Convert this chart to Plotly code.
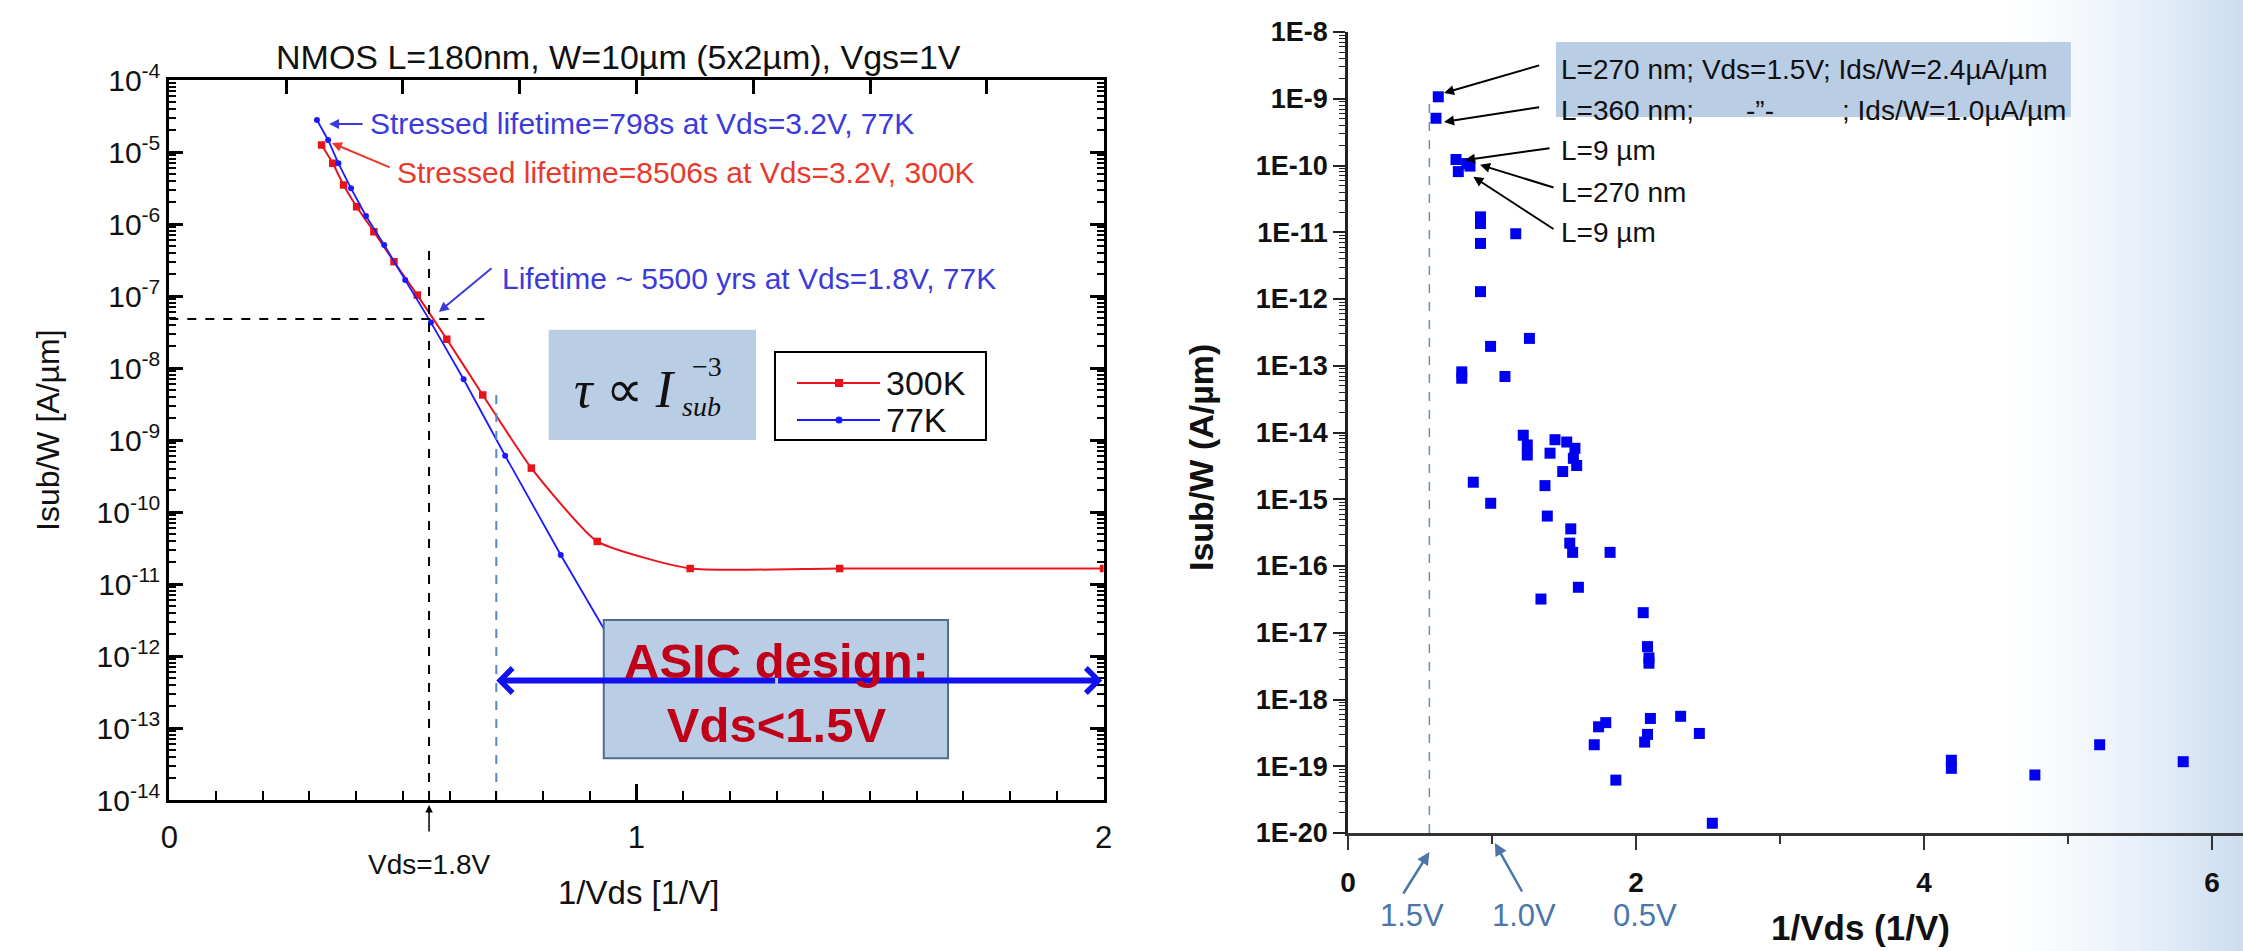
import math
import plotly.graph_objects as go

W, H = 2243, 951

# ---------------- left panel: NMOS substrate current vs 1/Vds ----------------
inv_vds_300k = [0.326, 0.350, 0.373, 0.401, 0.438, 0.481, 0.531, 0.594, 0.671,
                0.775, 0.916, 1.115, 1.435, 2.0]
isub_300k = [1.25e-5, 6.97e-6, 3.48e-6, 1.74e-6, 7.8e-7, 2.99e-7, 1.03e-7, 2.51e-8,
             4.22e-9, 4.07e-10, 3.9e-11, 1.64e-11, 1.64e-11, 1.64e-11]

inv_vds_77k = [0.316, 0.340, 0.362, 0.389, 0.421, 0.460, 0.505, 0.560, 0.630,
               0.719, 0.838, 0.96]
isub_77k = [2.78e-5, 1.47e-5, 6.97e-6, 3.13e-6, 1.29e-6, 5.1e-7, 1.67e-7, 4.3e-8,
            6.97e-9, 6.05e-10, 2.53e-11, 1.12e-12]

# operating point at Vds = 1.8 V and the 1.5 V design limit
inv_vds_op = 0.556
isub_op = 4.8e-8
inv_vds_limit = 0.70

# ---------------- right panel: many devices, Isub/W vs 1/Vds ----------------
inv_vds_dev = [0.627, 0.611, 0.75, 0.824, 0.847, 0.766,
               0.92, 0.92, 1.165, 0.92, 0.92, 1.26, 0.99, 1.09, 0.79, 0.79,
               1.217, 1.245, 1.245, 1.4375, 1.519, 1.403, 1.576, 1.565, 1.588,
               1.491, 0.870, 1.368, 0.991, 1.384, 1.547,
               1.54, 1.56, 1.82, 1.60, 1.34, 2.05, 2.08, 2.09, 2.09,
               2.31, 2.10, 1.79, 1.74, 2.44, 2.08, 2.06, 1.71,
               4.19, 4.19, 5.22, 5.80, 4.77, 1.86, 2.53]
isub_dev = [1.07e-9, 5.1e-10, 1.23e-10, 1.07e-10, 9.8e-11, 8.1e-11,
            1.7e-11, 1.35e-11, 9.5e-12, 6.8e-12, 1.29e-12, 2.57e-13, 1.95e-13,
            6.9e-14, 8.1e-14, 6.5e-14,
            9.1e-15, 6.5e-15, 4.6e-15, 7.8e-15, 7.2e-15, 4.9e-15, 5.8e-15, 4.1e-15,
            3.2e-15, 2.6e-15, 1.8e-15, 1.6e-15, 8.7e-16, 5.6e-16, 3.6e-16,
            2.2e-16, 1.6e-16, 1.6e-16, 4.8e-17, 3.2e-17, 2.0e-17, 6.2e-18, 4.2e-18,
            3.5e-18, 5.6e-19, 5.2e-19, 4.5e-19, 3.9e-19, 3.1e-19, 3.0e-19, 2.3e-19,
            2.1e-19, 1.23e-19, 9.3e-20, 2.1e-19, 1.17e-19, 7.4e-20, 6.2e-20, 1.4e-20]
inv_vds_15v_line = 0.565

left_decades = list(range(-14, -3))
right_decades = list(range(-20, -7))
right_tick_text = ["1E%d" % d for d in right_decades]

FONT = "Liberation Sans, Arial, sans-serif"
SERIF = "Liberation Serif, Times New Roman, serif"
RED = "#e8141c"
BLUE = "#1a1aff"
TXT_BLUE = "#3b3bdc"
TXT_RED = "#e83a2c"
BOX_FILL = "#b9cde5"
STEEL = "#4a76aa"


def px(x):
    return x / W


def py(y):
    return 1 - y / H


fig = go.Figure()

# curves (left)
fig.add_trace(go.Scatter(
    x=inv_vds_300k, y=isub_300k, mode="lines+markers", name="300K",
    line=dict(color=RED, width=2, shape="spline", smoothing=0.5),
    marker=dict(symbol="square", size=7.5, color=RED),
    xaxis="x", yaxis="y", showlegend=False))
fig.add_trace(go.Scatter(
    x=inv_vds_77k, y=isub_77k, mode="lines+markers", name="77K",
    line=dict(color=BLUE, width=1.8),
    marker=dict(symbol="circle", size=6, color=BLUE),
    xaxis="x", yaxis="y", showlegend=False))

# guide lines (left)
fig.add_trace(go.Scatter(
    x=[0, 0.677], y=[isub_op, isub_op], mode="lines",
    line=dict(color="black", width=2, dash="dash"),
    xaxis="x", yaxis="y", showlegend=False, hoverinfo="skip"))
fig.add_trace(go.Scatter(
    x=[inv_vds_op, inv_vds_op], y=[1e-14, 10 ** -6.32], mode="lines",
    line=dict(color="black", width=2, dash="dash"),
    xaxis="x", yaxis="y", showlegend=False, hoverinfo="skip"))
fig.add_trace(go.Scatter(
    x=[inv_vds_limit, inv_vds_limit], y=[1e-14, 10 ** -8.3], mode="lines",
    line=dict(color="#5b87c0", width=2, dash="dash"),
    xaxis="x", yaxis="y", showlegend=False, hoverinfo="skip"))
# carrier for the top tick row
fig.add_trace(go.Scatter(x=[None], y=[None], xaxis="x3", yaxis="y",
                         showlegend=False, hoverinfo="skip"))

# right panel
fig.add_trace(go.Scatter(
    x=[inv_vds_15v_line, inv_vds_15v_line], y=[1e-20, 10 ** -9.0], mode="lines",
    line=dict(color="#6a8fb8", width=1.5, dash="dash"),
    xaxis="x2", yaxis="y2", showlegend=False, hoverinfo="skip"))
fig.add_trace(go.Scatter(
    x=inv_vds_dev, y=isub_dev, mode="markers",
    marker=dict(symbol="square", size=11, color="#0000f0"),
    xaxis="x2", yaxis="y2", showlegend=False))

shapes = []
# soft blue wash on the right edge
n_strips = 30
x_start, x_end = 1990, W
for i in range(n_strips):
    t = ((i + 0.5) / n_strips) ** 1.5
    r = round(255 + (203 - 255) * t)
    g = round(255 + (221 - 255) * t)
    b = round(255 + (240 - 255) * t)
    x0 = x_start + (x_end - x_start) * i / n_strips
    x1 = x_start + (x_end - x_start) * (i + 1) / n_strips + 1
    shapes.append(dict(type="rect", xref="paper", yref="paper",
                       x0=px(x0), x1=px(x1), y0=0, y1=1, layer="below",
                       fillcolor="rgb(%d,%d,%d)" % (r, g, b), line=dict(width=0)))

# tau box
shapes.append(dict(type="rect", xref="x", yref="y", x0=0.812, x1=1.256,
                   y0=10 ** -9.0, y1=10 ** -7.47, fillcolor=BOX_FILL,
                   line=dict(width=0), layer="above"))
# ASIC box
shapes.append(dict(type="rect", xref="x", yref="y", x0=0.93, x1=1.667,
                   y0=10 ** -13.42, y1=10 ** -11.50, fillcolor=BOX_FILL,
                   line=dict(color="#4f6d8f", width=2), layer="above"))
# legend frame and samples
shapes.append(dict(type="rect", xref="paper", yref="paper", x0=px(775), x1=px(986),
                   y0=py(440), y1=py(352), fillcolor="white",
                   line=dict(color="black", width=2), layer="above"))
shapes.append(dict(type="line", xref="paper", yref="paper", x0=px(797), x1=px(880),
                   y0=py(383), y1=py(383), line=dict(color=RED, width=2), layer="above"))
shapes.append(dict(type="rect", xref="paper", yref="paper", x0=px(835), x1=px(843),
                   y0=py(387), y1=py(379), fillcolor=RED, line=dict(width=0), layer="above"))
shapes.append(dict(type="line", xref="paper", yref="paper", x0=px(797), x1=px(880),
                   y0=py(420), y1=py(420), line=dict(color=BLUE, width=2), layer="above"))
shapes.append(dict(type="circle", xref="paper", yref="paper", x0=px(835.5), x1=px(842.5),
                   y0=py(423.5), y1=py(416.5), fillcolor=BLUE, line=dict(width=0),
                   layer="above"))
# highlight behind the device notes (right)
shapes.append(dict(type="rect", xref="x2", yref="y2", x0=1.444, x1=5.02,
                   y0=10 ** -9.273, y1=10 ** -8.15, fillcolor=BOX_FILL,
                   line=dict(width=0), layer="below"))

ann = []


def text(t, x, y, size, color="#111111", xref="paper", yref="paper",
         xanchor="center", yanchor="middle", angle=0, family=FONT, bold=False):
    ann.append(dict(text=t, x=x, y=y, xref=xref, yref=yref, showarrow=False,
                    xanchor=xanchor, yanchor=yanchor, textangle=angle,
                    font=dict(size=size, color=color, family=family,
                              weight="bold" if bold else "normal")))


def arrow(x, y, ax, ay, color, width=2, head=2, size=1.0, xref="x", yref="y",
          axref=None, ayref=None):
    ann.append(dict(text="", x=x, y=y, ax=ax, ay=ay, xref=xref, yref=yref,
                    axref=axref or xref, ayref=ayref or yref, showarrow=True,
                    arrowhead=head, arrowsize=size, arrowwidth=width,
                    arrowcolor=color, standoff=0, startstandoff=0))


# left panel labels
text("NMOS L=180nm, W=10µm (5x2µm), Vgs=1V", px(618), py(57), 34)
text("Isub/W [A/µm]", px(48), py(430), 32, angle=-90)
text("1/Vds [1/V]", px(638), py(892), 33)
text("Vds=1.8V", inv_vds_op, py(864), 28, xref="x")
arrow(inv_vds_op, py(805), 0, 28, "black", width=1.5, head=2, xref="x", yref="paper",
      axref="pixel", ayref="pixel")

text("Stressed lifetime=798s at Vds=3.2V, 77K", 0.4255, -4.611, 30, TXT_BLUE,
     xref="x", yref="y", xanchor="left")
arrow(0.342, -4.611, 0.417, -4.611, TXT_BLUE)
text("Stressed lifetime=8506s at Vds=3.2V, 300K", 0.483, -5.29, 30, TXT_RED,
     xref="x", yref="y", xanchor="left")
arrow(0.348, -4.875, 0.475, -5.222, TXT_RED)
text("Lifetime ~ 5500 yrs at Vds=1.8V, 77K", 0.708, -6.75, 30, TXT_BLUE,
     xref="x", yref="y", xanchor="left")
arrow(0.577, -7.222, 0.693, -6.597, TXT_BLUE)

# tau proportional to Isub^-3
text("<i>τ</i> ∝ <i>I</i>", 0.975, -8.30, 52, "#111111", xref="x", yref="y",
     family=SERIF)
text("−3", 1.150, -7.98, 28, "#111111", xref="x", yref="y", family=SERIF)
text("<i>sub</i>", 1.140, -8.53, 28, "#111111", xref="x", yref="y", family=SERIF)

# legend entries
text("300K", px(884), py(383), 34, xanchor="left")
text("77K", px(884), py(420), 34, xanchor="left")

# ASIC design window
arrow(inv_vds_limit, -12.34, 1.30, -12.34, "#1010f0", width=6, head=4, size=0.8)
arrow(1.997, -12.34, 1.30, -12.34, "#1010f0", width=6, head=4, size=0.8)
text("ASIC design:<br>Vds&lt;1.5V", 1.30, -12.52, 49, "#c00018", xref="x", yref="y",
     bold=True)

# right panel labels
text("Isub/W (A/µm)", px(1201), py(458), 34, angle=-90, bold=True)
text("1/Vds (1/V)", px(1860), py(927), 35, bold=True)
text("1.5V", 0.444, py(915), 31, STEEL, xref="x2")
text("1.0V", 1.22, py(915), 31, STEEL, xref="x2")
text("0.5V", 2.06, py(915), 31, STEEL, xref="x2")
arrow(inv_vds_15v_line, py(852), -27, 43, STEEL, width=2.5, head=2, size=1.0,
      xref="x2", yref="paper", axref="pixel", ayref="pixel")
arrow(1.02, py(843), 28, 50, STEEL, width=2.5, head=2, size=1.0,
      xref="x2", yref="paper", axref="pixel", ayref="pixel")

text("L=270 nm; Vds=1.5V; Ids/W=2.4µA/µm", 1.4625, -8.569, 28,
     xref="x2", yref="y2", xanchor="left")
text("L=360 nm;", 1.4625, -9.169, 28, xref="x2", yref="y2", xanchor="left")
text("-”-", 2.861, -9.169, 28, xref="x2", yref="y2")
text("; Ids/W=1.0µA/µm", 5.0, -9.169, 28, xref="x2", yref="y2", xanchor="right")
text("L=9 µm", 1.4625, -9.768, 28, xref="x2", yref="y2", xanchor="left")
text("L=270 nm", 1.4625, -10.397, 28, xref="x2", yref="y2", xanchor="left")
text("L=9 µm", 1.4625, -11.011, 28, xref="x2", yref="y2", xanchor="left")
arrow(0.667, -8.914, 1.338, -8.494, "black", xref="x2", yref="y2")
arrow(0.667, -9.348, 1.338, -9.124, "black", xref="x2", yref="y2")
arrow(0.8125, -9.918, 1.410, -9.738, "black", xref="x2", yref="y2")
arrow(0.917, -9.99, 1.4375, -10.337, "black", xref="x2", yref="y2")
arrow(0.870, -10.17, 1.4375, -10.966, "black", xref="x2", yref="y2")

left_minor_y = [k * 10.0 ** e for e in left_decades[:-1] for k in range(2, 10)]
right_minor_y = [k * 10.0 ** e for e in right_decades[:-1] for k in range(2, 10)]

fig.update_layout(
    width=W, height=H, margin=dict(l=0, r=0, t=0, b=0, autoexpand=False),
    paper_bgcolor="white", plot_bgcolor="rgba(0,0,0,0)",
    font=dict(family=FONT, color="#111111"),
    showlegend=False,
    xaxis=dict(domain=[px(169.3), px(1103.6)], range=[0, 2], anchor="y",
               automargin=False,
               showline=True, linecolor="black", linewidth=3, mirror=True,
               ticks="inside", ticklen=16, tickwidth=2.5, tickcolor="black",
               tickvals=[0, 1, 2], ticktext=["0", "1", "2"],
               minor=dict(ticks="inside", ticklen=9, tickwidth=2, tickcolor="black",
                          tickvals=[i / 10 for i in range(1, 20) if i != 10]),
               tickfont=dict(size=31), ticklabelstandoff=8,
               showgrid=False, zeroline=False),
    xaxis3=dict(overlaying="x", side="top", range=[0, 2], anchor="y",
                automargin=False,
                tickvals=[0.25, 0.5, 0.75, 1.0, 1.25, 1.5, 1.75],
                ticks="inside", ticklen=14, tickwidth=2.5, tickcolor="black",
                showticklabels=False, showline=False, showgrid=False, zeroline=False),
    yaxis=dict(domain=[py(800), py(80)], type="log", range=[-14, -4], anchor="x",
               automargin=False,
               showline=True, linecolor="black", linewidth=3, mirror="ticks",
               ticks="inside", ticklen=14, tickwidth=2.5, tickcolor="black",
               tickvals=[10.0 ** d for d in left_decades],
               ticktext=["10<sup>%d</sup>" % d for d in left_decades],
               minor=dict(ticks="inside", ticklen=7, tickwidth=1.5, tickcolor="black",
                          tickvals=left_minor_y),
               tickfont=dict(size=30), showgrid=False, zeroline=False),
    xaxis2=dict(domain=[px(1348), 1.0], range=[0, 895 / 144], anchor="y2",
                automargin=False,
                showline=True, linecolor="#333333", linewidth=3,
                ticks="outside", ticklen=14, tickwidth=2, tickcolor="#333333",
                tickvals=[0, 2, 4, 6], ticktext=["0", "2", "4", "6"],
                minor=dict(ticks="outside", ticklen=8, tickwidth=2, tickcolor="#333333",
                           tickvals=[1, 3, 5]),
                tickfont=dict(size=28, weight="bold"), ticklabelstandoff=8,
                showgrid=False, zeroline=False),
    yaxis2=dict(domain=[py(833), py(32)], type="log", range=[-20, -8], anchor="x2",
                automargin=False,
                showline=True, linecolor="#222222", linewidth=2.5,
                ticks="outside", ticklen=12, tickwidth=2, tickcolor="#222222",
                tickvals=[10.0 ** d for d in right_decades], ticktext=right_tick_text,
                minor=dict(ticks="outside", ticklen=6, tickwidth=1.2, tickcolor="#222222",
                           tickvals=right_minor_y),
                tickfont=dict(size=27, weight="bold"), showgrid=False, zeroline=False),
    shapes=shapes,
    annotations=ann,
)

fig.write_html("out.html")
